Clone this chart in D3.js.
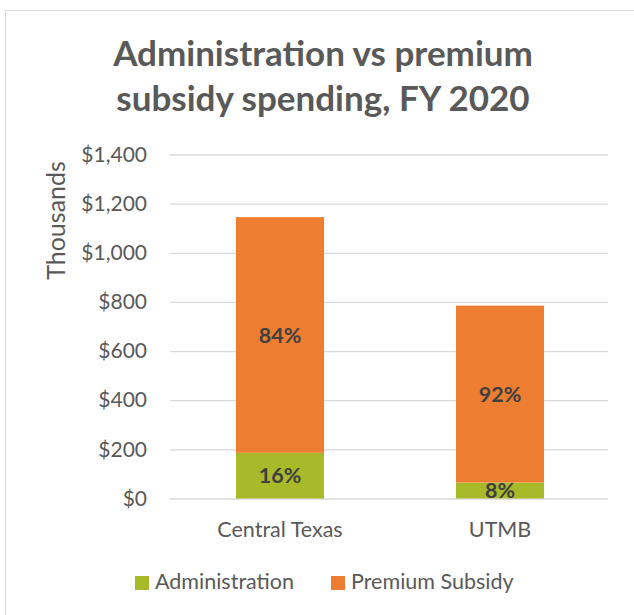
<!DOCTYPE html>
<html>
<head>
<meta charset="utf-8">
<script src="https://cdn.jsdelivr.net/npm/d3@7"></script>
<style>
  body { margin: 0; background: #fff; }
  svg { display: block; }
</style>
</head>
<body>
<svg width="634" height="615"></svg>
<script>
// data, in thousands of dollars
const categories = ["Central Texas", "UTMB"];
const seriesNames = ["Administration", "Premium Subsidy"];
const administration = [186, 65];
const premiumSubsidy = [959, 720];
const yTicks = [0, 200, 400, 600, 800, 1000, 1200, 1400];

const colors = ["#A8B929", "#ED7D31"];
const font = "Lato, 'Open Sans', sans-serif";

const svg = d3.select("svg");

// outer chart border
svg.append("rect")
   .attr("x", 5.5)
   .attr("y", 10.5)
   .attr("width", 640)
   .attr("height", 620)
   .attr("fill", "#fff")
   .attr("stroke", "#d9d9d9");

// title
const title = svg.append("text")
   .attr("text-anchor", "middle")
   .attr("fill", "#595959")
   .attr("font-family", font)
   .attr("font-weight", "bold")
   .attr("font-size", "35px");
title.append("tspan").attr("x", 323).attr("y", 66).text("Administration vs premium");
title.append("tspan").attr("x", 323).attr("y", 111).text("subsidy spending, FY 2020");

// scales
const x = d3.scaleBand()
   .domain(categories)
   .range([170, 610])
   .paddingInner(0.6)
   .paddingOuter(0.3);

const y = d3.scaleLinear()
   .domain([0, 1400])
   .range([498.5, 154.5]);

// gridlines + y labels
const yAxis = svg.append("g")
   .attr("transform", "translate(170,0)")
   .call(d3.axisLeft(y)
      .tickValues(yTicks)
      .tickSize(-438)
      .tickPadding(23)
      .tickFormat(d => "$" + d3.format(",")(d)));
yAxis.select(".domain").remove();
yAxis.selectAll(".tick line").attr("stroke", "#d9d9d9").attr("stroke-width", 1.3);
yAxis.selectAll(".tick text")
   .attr("fill", "#595959")
   .attr("font-family", font)
   .attr("font-size", "21px");

// stacked data
const rows = categories.map((c, i) => ({
   cat: c,
   "Administration": administration[i],
   "Premium Subsidy": premiumSubsidy[i]
}));
const stacked = d3.stack().keys(seriesNames)(rows);

const groups = svg.append("g")
   .selectAll("g")
   .data(stacked)
   .join("g")
   .attr("fill", (d, i) => colors[i]);

groups.selectAll("rect")
   .data(d => d)
   .join("rect")
   .attr("x", d => x(d.data.cat))
   .attr("y", d => y(d[1]))
   .attr("width", x.bandwidth())
   .attr("height", d => y(d[0]) - y(d[1]));

// percentage labels
groups.selectAll("text")
   .data((d, i) => d.map(p => ({ p, key: seriesNames[i] })))
   .join("text")
   .attr("x", d => x(d.p.data.cat) + x.bandwidth() / 2)
   .attr("y", d => (y(d.p[0]) + y(d.p[1])) / 2)
   .attr("dy", "0.36em")
   .attr("text-anchor", "middle")
   .attr("fill", "#404040")
   .attr("font-family", font)
   .attr("font-weight", "bold")
   .attr("font-size", "21.5px")
   .text(d => {
      const total = d.p.data["Administration"] + d.p.data["Premium Subsidy"];
      return Math.round(100 * (d.p[1] - d.p[0]) / total) + "%";
   });

// x labels
const xAxis = svg.append("g")
   .attr("transform", "translate(0,498.5)")
   .call(d3.axisBottom(x).tickSize(0).tickPadding(0));
xAxis.select(".domain").remove();
xAxis.selectAll(".tick text")
   .attr("y", 38.5)
   .attr("dy", null)
   .attr("fill", "#595959")
   .attr("font-family", font)
   .attr("font-size", "21.5px");

// y axis title
svg.append("text")
   .attr("transform", "translate(65,220.5) rotate(-90)")
   .attr("text-anchor", "middle")
   .attr("fill", "#595959")
   .attr("font-family", font)
   .attr("font-size", "25px")
   .text("Thousands");

// legend
const legendX = [135, 331];
const legend = svg.append("g")
   .selectAll("g")
   .data(seriesNames)
   .join("g")
   .attr("transform", (d, i) => `translate(${legendX[i]},576)`);
legend.append("rect")
   .attr("width", 14)
   .attr("height", 14)
   .attr("fill", (d, i) => colors[i]);
legend.append("text")
   .attr("x", 20)
   .attr("y", 13)
   .attr("fill", "#595959")
   .attr("font-family", font)
   .attr("font-size", "21.5px")
   .text(d => d);
</script>
</body>
</html>
